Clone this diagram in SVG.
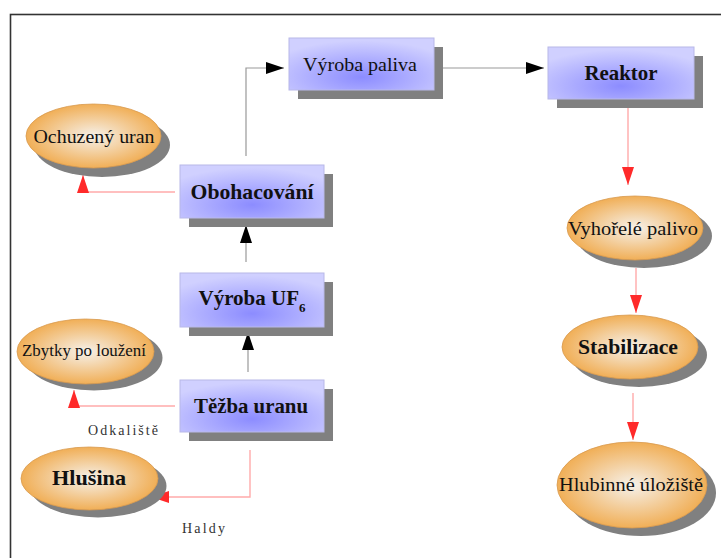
<svg xmlns="http://www.w3.org/2000/svg" width="721" height="558" viewBox="0 0 721 558">
<defs>
<radialGradient id="gBlue" cx="0.5" cy="0.75" r="0.7">
<stop offset="0" stop-color="#8c8cff"/>
<stop offset="1" stop-color="#d0d0ff"/>
</radialGradient>
<radialGradient id="gOrange" cx="0.5" cy="0.5" r="0.55">
<stop offset="0" stop-color="#f6f1ea"/>
<stop offset="1" stop-color="#f0a848"/>
</radialGradient>
<marker id="mBlack" viewBox="0 0 18 12" refX="18" refY="6" markerWidth="18" markerHeight="12" markerUnits="userSpaceOnUse" orient="auto">
<path d="M0,0 L18,6 L0,12 z" fill="#000"/>
</marker>
<marker id="mRed" viewBox="0 0 18 12" refX="18" refY="6" markerWidth="18" markerHeight="12" markerUnits="userSpaceOnUse" orient="auto">
<path d="M0,0 L18,6 L0,12 z" fill="#ff2a2a"/>
</marker>
</defs>
<style>
.box{fill:url(#gBlue);stroke:#b8b8e8;stroke-width:1}
.ell{fill:url(#gOrange);stroke:#d89a50;stroke-width:0.8}
.sh{fill:#808080}
.t{font-family:"Liberation Serif","Times New Roman",serif;fill:#111;text-anchor:middle}
.b{font-weight:bold}
.cb{fill:none;stroke:#999;stroke-width:1.2;marker-end:url(#mBlack)}
.cr{fill:none;stroke:#ffaaaa;stroke-width:1.4;marker-end:url(#mRed)}
.lbl{font-family:"Liberation Serif","Times New Roman",serif;font-size:14px;fill:#333}
</style>
<rect x="0" y="0" width="721" height="558" fill="#fff"/>
<rect x="10.5" y="14.5" width="720" height="560" fill="none" stroke="#333" stroke-width="1.6"/>

<g id="connectors">
<path class="cb" d="M246,156 V68 H284"/>
<path class="cb" d="M443,68 H544"/>
<path class="cb" d="M246,262 V225"/>
<path class="cb" d="M248,372 V332"/>
<path class="cr" d="M175,192 H83 V175"/>
<path class="cr" d="M175,406 H74 V390"/>
<path class="cr" d="M250,450 V497 H151"/>
<path class="cr" d="M628,108 V185"/>
<path class="cr" d="M636,268 V313"/>
<path class="cr" d="M633,393 V440"/>
</g>

<g id="vyroba-paliva">
<rect class="sh" x="298" y="47" width="145" height="52"/>
<rect class="box" x="289" y="38" width="145" height="52"/>
<text class="t" x="360" y="71" font-size="19" textLength="114" lengthAdjust="spacingAndGlyphs">Výroba paliva</text>
</g>
<g id="reaktor">
<rect class="sh" x="557" y="56" width="146" height="52"/>
<rect class="box" x="548" y="47" width="146" height="52"/>
<text class="t b" x="621" y="80" font-size="21" textLength="73" lengthAdjust="spacingAndGlyphs">Reaktor</text>
</g>
<g id="obohacovani">
<rect class="sh" x="189" y="174" width="144" height="53"/>
<rect class="box" x="180" y="165" width="144" height="53"/>
<text class="t b" x="252" y="199" font-size="21" textLength="123" lengthAdjust="spacingAndGlyphs">Obohacování</text>
</g>
<g id="vyroba-uf6">
<rect class="sh" x="189" y="282" width="144" height="54"/>
<rect class="box" x="180" y="273" width="144" height="54"/>
<text class="t b" x="252" y="305" font-size="21">Výroba UF<tspan font-size="13" dy="7">6</tspan></text>
</g>
<g id="tezba-uranu">
<rect class="sh" x="189" y="389" width="144" height="52"/>
<rect class="box" x="180" y="380" width="144" height="52"/>
<text class="t b" x="251" y="413" font-size="21" textLength="114" lengthAdjust="spacingAndGlyphs">Těžba uranu</text>
</g>

<g id="ochuzeny-uran">
<ellipse class="sh" cx="102" cy="145" rx="68" ry="32"/>
<ellipse class="ell" cx="93.5" cy="136" rx="67.5" ry="32"/>
<text class="t" x="94" y="143" font-size="18" textLength="121" lengthAdjust="spacingAndGlyphs">Ochuzený uran</text>
</g>
<g id="zbytky-po-louzeni">
<ellipse class="sh" cx="94" cy="358" rx="68.5" ry="32.5"/>
<ellipse class="ell" cx="85.5" cy="351.5" rx="68.5" ry="32.5"/>
<text class="t" x="84" y="356" font-size="17" textLength="124" lengthAdjust="spacingAndGlyphs">Zbytky po loužení</text>
</g>
<g id="hlusina">
<ellipse class="sh" cx="98" cy="486" rx="68.5" ry="31.5"/>
<ellipse class="ell" cx="89.5" cy="478.5" rx="68.5" ry="31.5"/>
<text class="t b" x="89" y="485" font-size="21" textLength="74" lengthAdjust="spacingAndGlyphs">Hlušina</text>
</g>
<g id="vyhorele-palivo">
<ellipse class="sh" cx="644" cy="236" rx="68" ry="32"/>
<ellipse class="ell" cx="635" cy="228" rx="68" ry="32"/>
<text class="t" x="633" y="235" font-size="18" textLength="130" lengthAdjust="spacingAndGlyphs">Vyhořelé palivo</text>
</g>
<g id="stabilizace">
<ellipse class="sh" cx="639" cy="355" rx="68" ry="32"/>
<ellipse class="ell" cx="630" cy="347" rx="68" ry="32"/>
<text class="t b" x="628" y="354" font-size="21" textLength="100" lengthAdjust="spacingAndGlyphs">Stabilizace</text>
</g>
<g id="hlubinne-uloziste">
<ellipse class="sh" cx="641" cy="493" rx="75" ry="43"/>
<ellipse class="ell" cx="632" cy="485" rx="75" ry="43"/>
<text class="t" x="631" y="491" font-size="18" textLength="144" lengthAdjust="spacingAndGlyphs">Hlubinné úložiště</text>
</g>

<text class="lbl" x="88" y="435" textLength="70" lengthAdjust="spacing">Odkaliště</text>
<text class="lbl" x="182" y="533" textLength="43" lengthAdjust="spacing">Haldy</text>
</svg>
